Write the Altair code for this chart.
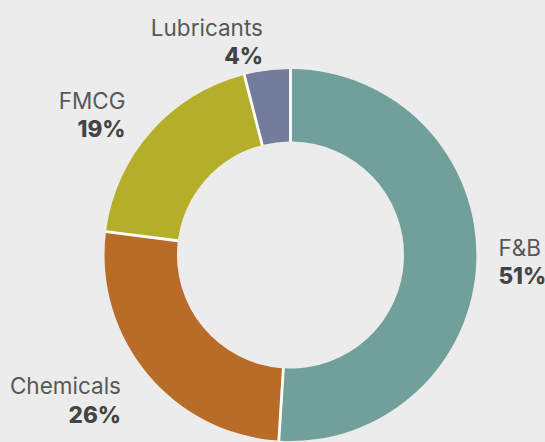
import altair as alt
import pandas as pd

categories = ["F&B", "Chemicals", "FMCG", "Lubricants"]
shares = [51, 26, 19, 4]
colors = ["#71a09b", "#b86c28", "#b5ae29", "#737c9b"]

df = pd.DataFrame({"category": categories, "share": shares, "idx": list(range(len(categories)))})

CX, CY = 290.5, 255
R_OUT, R_IN = 186, 113.5
R_LABEL = 220
FONT = "Inter"

base = alt.Chart(df).transform_joinaggregate(
    total="sum(share)"
).transform_window(
    cum="sum(share)", sort=[alt.SortField("idx")]
).transform_calculate(
    mid="(datum.cum - datum.share / 2) / datum.total",
    pct="datum.share + '%'",
).encode(
    theta=alt.Theta("share:Q", stack=True),
    order=alt.Order("idx:Q"),
    x=alt.value(CX),
    y=alt.value(CY),
)

ring = base.mark_arc(outerRadius=R_OUT, innerRadius=R_IN, color="white")

arcs = base.mark_arc(outerRadius=R_OUT, innerRadius=R_IN, padAngle=0.013).encode(
    color=alt.Color("category:N", scale=alt.Scale(domain=categories, range=colors), legend=None)
)

def label(field, side, dx, dy, bold):
    cond = "datum.mid <= 0.5" if side == "right" else "datum.mid > 0.5"
    return base.transform_calculate(
        lbl=f"{cond} ? datum.{field} : ''"
    ).mark_text(
        radius=R_LABEL,
        align="left" if side == "right" else "right",
        baseline="alphabetic",
        dx=dx,
        dy=dy,
        font=FONT,
        fontSize=22.5,
        fontWeight=800 if bold else "normal",
        color="#444444" if bold else "#585858",
    ).encode(text="lbl:N")

chart = alt.layer(
    ring,
    arcs,
    label("category", "right", -12, -6, False),
    label("pct", "right", -12, 22.5, True),
    label("category", "left", 0, -1, False),
    label("pct", "left", 0, 27.5, True),
).properties(
    width=545,
    height=442,
    background="#ececec",
    padding=0,
    autosize=alt.AutoSizeParams(type="none"),
).configure_view(stroke=None)

chart.save(
    "out.html",
    embed_options={
        "renderer": "svg",
        "actions": False,
        "defaultStyle": (
            "html, body { margin: 0; padding: 0; background: #ececec; overflow: hidden; } "
            ".vega-embed { display: block; } .vega-embed svg { display: block; }"
        ),
    },
)
